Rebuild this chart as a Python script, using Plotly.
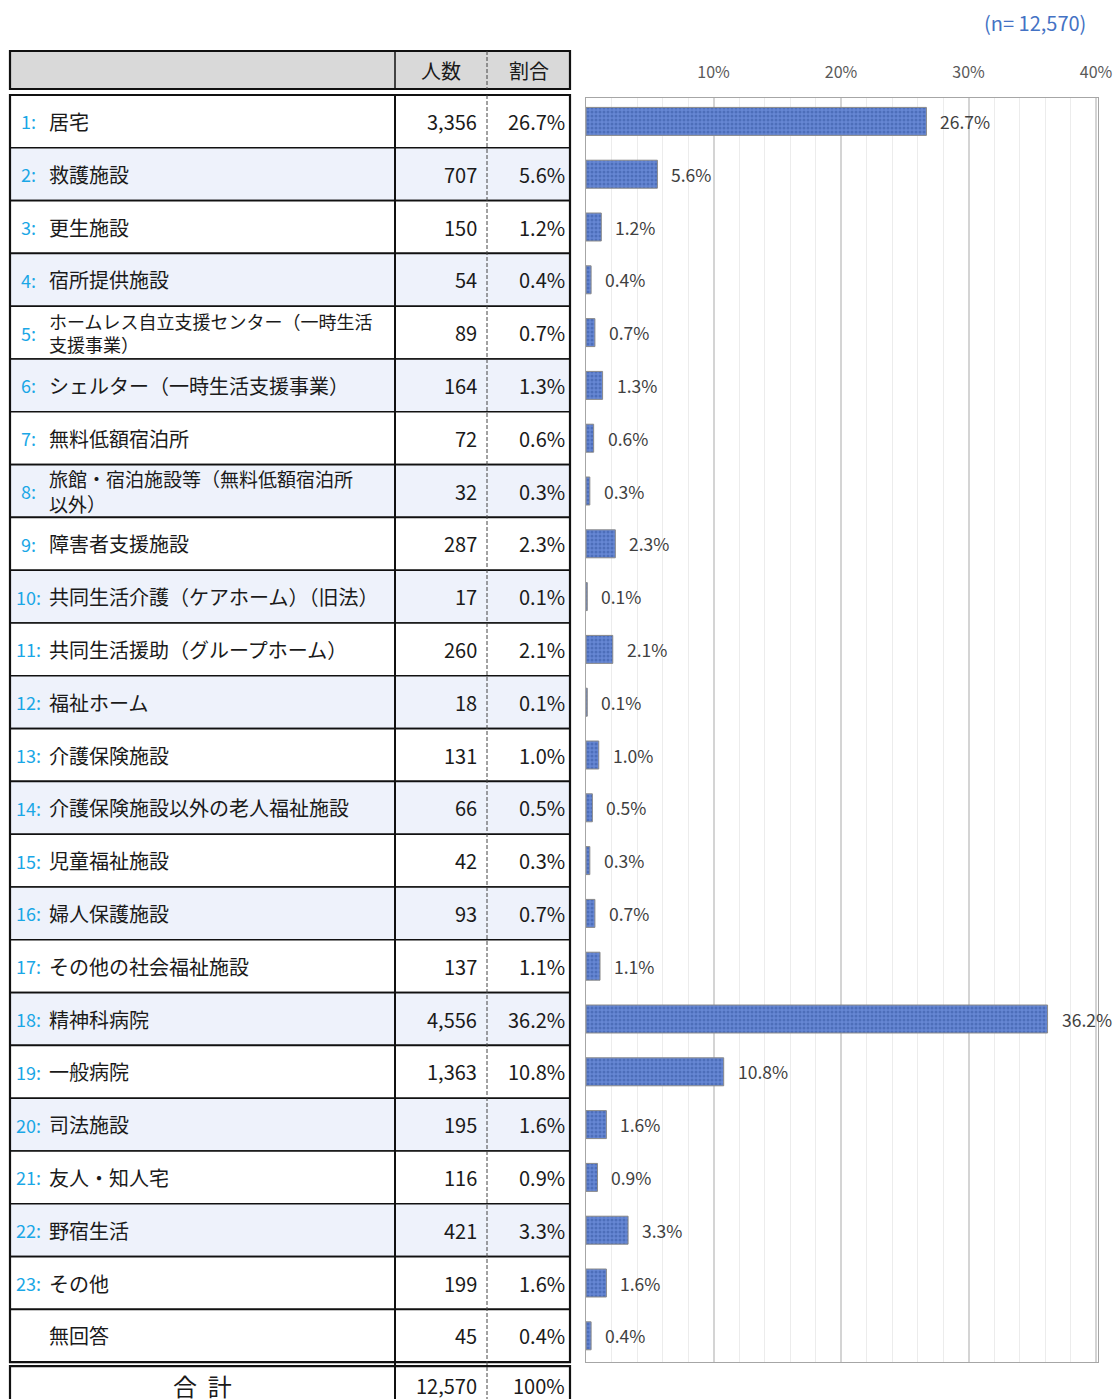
import plotly.graph_objects as go

# ---------------- data ----------------
numbers = [f"{i}:" for i in range(1, 24)] + [""]
labels = [
    "居宅", "救護施設", "更生施設", "宿所提供施設",
    "ホームレス自立支援センター（一時生活<br>支援事業）",
    "シェルター（一時生活支援事業）", "無料低額宿泊所",
    "旅館・宿泊施設等（無料低額宿泊所<br>以外）",
    "障害者支援施設", "共同生活介護（ケアホーム）（旧法）",
    "共同生活援助（グループホーム）", "福祉ホーム", "介護保険施設",
    "介護保険施設以外の老人福祉施設", "児童福祉施設", "婦人保護施設",
    "その他の社会福祉施設", "精神科病院", "一般病院", "司法施設",
    "友人・知人宅", "野宿生活", "その他", "無回答",
]
counts = [3356, 707, 150, 54, 89, 164, 72, 32, 287, 17, 260, 18, 131, 66,
          42, 93, 137, 4556, 1363, 195, 116, 421, 199, 45]
pcts = [26.7, 5.6, 1.2, 0.4, 0.7, 1.3, 0.6, 0.3, 2.3, 0.1, 2.1, 0.1, 1.0,
        0.5, 0.3, 0.7, 1.1, 36.2, 10.8, 1.6, 0.9, 3.3, 1.6, 0.4]
total_label = "合&nbsp;&nbsp;計"
total_count = 12570
total_pct = "100%"
header_cols = ["人数", "割合"]
tick_vals = [10, 20, 30, 40]
tick_text = ["10%", "20%", "30%", "40%"]
n_text = "(n= 12,570)"

# ---------------- geometry / style ----------------
W, H = 1116, 1399
ROW_TOP, ROW_H = 95.0, 52.8
PLOT_TOP, PLOT_BOT = 98.0, 1362.0
PX0, PX1 = 586.0, 1098.0
XMAX = 40 * (PX1 - PX0) / (1096.0 - PX0)
TX0, TXC1, TXC2, TX1 = 10, 395, 487, 570
FONT = "Noto Sans CJK JP, Noto Sans, sans-serif"
n = len(labels)
body_bot = ROW_TOP + n * ROW_H
shaded = [(i % 2 == 1) and i < 23 for i in range(n)]


def label_size(txt):
    if "<br>" in txt:
        return 18 if len(txt.split("<br>")[0]) > 17 else 19
    return 20


fig = go.Figure()

fig.add_trace(go.Bar(
    x=pcts, y=labels, orientation="h", width=0.53,
    marker=dict(color="#6687d4", line=dict(color="#8a8a8a", width=1),
                pattern=dict(shape=".", fgcolor="#34559f", size=4, solidity=0.45)),
    xaxis="x", yaxis="y", showlegend=False, hoverinfo="skip",
))

fig.add_trace(go.Scatter(x=[TX0], y=[ROW_TOP], mode="markers", marker=dict(opacity=0),
                         xaxis="x2", yaxis="y2", showlegend=False, hoverinfo="skip"))

shapes = []
ann = []

# header row
shapes.append(dict(type="rect", xref="x2", yref="y2", x0=TX0, x1=TX1, y0=51, y1=89,
                   fillcolor="#d9d9d9", line=dict(color="#111", width=2.2), layer="below"))
shapes.append(dict(type="line", xref="x2", yref="y2", x0=TXC1, x1=TXC1, y0=51, y1=89,
                   line=dict(color="#111", width=1.5)))
shapes.append(dict(type="line", xref="x2", yref="y2", x0=TXC2, x1=TXC2, y0=51, y1=89,
                   line=dict(color="#444", width=1, dash="4px,2px")))
for txt, xc in zip(header_cols, [(TXC1 + TXC2) / 2, (TXC2 + TX1) / 2]):
    ann.append(dict(xref="x2", yref="y2", x=xc, y=70, text=txt, showarrow=False,
                    xanchor="center", yanchor="middle",
                    font=dict(family=FONT, size=20, color="#1a1a1a")))

# body rows
for i in range(n):
    y0 = ROW_TOP + i * ROW_H
    y1 = y0 + ROW_H
    yc = (y0 + y1) / 2
    shapes.append(dict(type="rect", xref="x2", yref="y2", x0=TX0, x1=TX1, y0=y0, y1=y1,
                       fillcolor="#eef2fb" if shaded[i] else "white",
                       line=dict(color="#111", width=1.6), layer="below"))
    if numbers[i]:
        ann.append(dict(xref="x2", yref="y2", x=28, y=yc, text=numbers[i], showarrow=False,
                        xanchor="center", yanchor="middle",
                        font=dict(family=FONT, size=18, color="#1aa7e6")))
    ann.append(dict(xref="x2", yref="y2", x=47, y=yc, text=labels[i], showarrow=False,
                    xanchor="left", yanchor="middle", align="left",
                    font=dict(family=FONT, size=label_size(labels[i]), color="#1a1a1a")))
    ann.append(dict(xref="x2", yref="y2", x=479, y=yc, text=f"{counts[i]:,}", showarrow=False,
                    xanchor="right", yanchor="middle",
                    font=dict(family=FONT, size=20, color="#1a1a1a")))
    ann.append(dict(xref="x2", yref="y2", x=567, y=yc, text=f"{pcts[i]:.1f}%", showarrow=False,
                    xanchor="right", yanchor="middle",
                    font=dict(family=FONT, size=20, color="#1a1a1a")))
    # bar value labels
    ann.append(dict(xref="x", yref="y", x=pcts[i], y=labels[i], text=f"{pcts[i]:.1f}%",
                    showarrow=False, xanchor="left", yanchor="middle", xshift=12,
                    font=dict(family=FONT, size=17.5, color="#404040")))

shapes.append(dict(type="rect", xref="x2", yref="y2", x0=TX0, x1=TX1, y0=ROW_TOP, y1=body_bot,
                   line=dict(color="#111", width=2.2)))

# total row
tt = body_bot + 4
shapes.append(dict(type="rect", xref="x2", yref="y2", x0=TX0, x1=TX1, y0=tt, y1=H + 10,
                   fillcolor="white", line=dict(color="#111", width=2.2), layer="below"))
ann.append(dict(xref="x2", yref="y2", x=(TX0 + TXC1) / 2, y=tt + 19, text=total_label,
                showarrow=False, xanchor="center", yanchor="middle",
                font=dict(family=FONT, size=24, color="#1a1a1a")))
ann.append(dict(xref="x2", yref="y2", x=479, y=tt + 19, text=f"{total_count:,}", showarrow=False,
                xanchor="right", yanchor="middle", font=dict(family=FONT, size=20, color="#1a1a1a")))
ann.append(dict(xref="x2", yref="y2", x=567, y=tt + 19, text=total_pct, showarrow=False,
                xanchor="right", yanchor="middle", font=dict(family=FONT, size=20, color="#1a1a1a")))

# column separators through body and total
shapes.append(dict(type="line", xref="x2", yref="y2", x0=TXC1, x1=TXC1, y0=ROW_TOP, y1=H + 10,
                   line=dict(color="#111", width=2)))
shapes.append(dict(type="line", xref="x2", yref="y2", x0=TXC2, x1=TXC2, y0=ROW_TOP, y1=H + 10,
                   line=dict(color="#444", width=1, dash="4px,2px")))

# sample size
ann.append(dict(xref="paper", yref="paper", x=1088 / W, y=1 - 23 / H, text=n_text,
                showarrow=False, xanchor="right", yanchor="middle",
                font=dict(family=FONT, size=20, color="#4472c4")))

fig.update_layout(
    width=W, height=H, margin=dict(l=0, r=0, t=0, b=0, pad=0, autoexpand=False),
    autosize=False,
    paper_bgcolor="white", plot_bgcolor="rgba(0,0,0,0)",
    shapes=shapes, annotations=ann,
    xaxis=dict(domain=[PX0 / W, PX1 / W], range=[0, XMAX], side="top",
               tickvals=tick_vals, ticktext=tick_text, ticks="",
               tickfont=dict(family=FONT, size=16, color="#595959"),
               ticklabelstandoff=13, automargin=False,
               showgrid=True, gridcolor="#d4d4d4", gridwidth=1.5,
               minor=dict(dtick=2, showgrid=True, gridcolor="#ececec", gridwidth=1),
               showline=True, mirror=True, linecolor="#a6a6a6", linewidth=1.2,
               zeroline=False, fixedrange=True),
    yaxis=dict(domain=[1 - PLOT_BOT / H, 1 - PLOT_TOP / H], type="category",
               categoryorder="array", categoryarray=labels, automargin=False,
               range=[(PLOT_BOT - ROW_TOP) / ROW_H - 0.5, (PLOT_TOP - ROW_TOP) / ROW_H - 0.5],
               showticklabels=False, showgrid=False, ticks="",
               showline=True, mirror=True, linecolor="#a6a6a6", linewidth=1.2,
               zeroline=False, fixedrange=True),
    xaxis2=dict(domain=[0, 1], range=[0, W], visible=False, fixedrange=True, automargin=False),
    yaxis2=dict(domain=[0, 1], range=[H, 0], visible=False, fixedrange=True, automargin=False),
)

fig.write_html(
    "out.html",
    config={"responsive": False, "displayModeBar": False},
    post_script="document.body.style.margin='0';",
)
